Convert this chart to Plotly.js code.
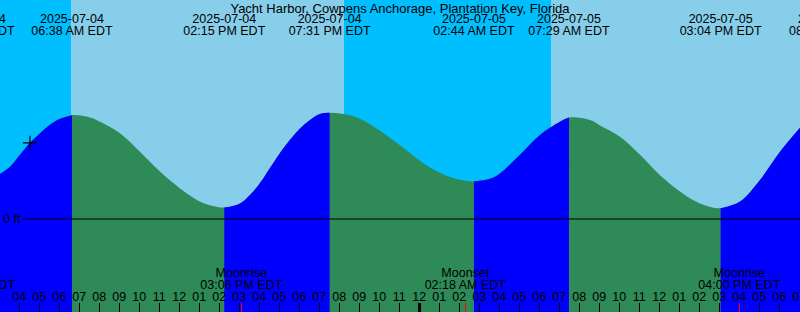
<!DOCTYPE html>
<html><head><meta charset="utf-8">
<script src="https://cdn.plot.ly/plotly-3.0.1.min.js"></script>
<style>html,body{margin:0;padding:0;background:#fff}#chart{width:800px;height:312px}</style>
</head><body><div id="chart"></div>
<script>
// ---------- data ----------
const chartTitle = 'Yacht Harbor, Cowpens Anchorage, Plantation Key, Florida';
const rangeStart = '2025-07-04 03:02:06';
const rangeEnd   = '2025-07-05 19:02:06';

// predicted tide curve (ft)
const curveTimes = [
 '2025-07-04 03:02','2025-07-04 03:32','2025-07-04 04:02','2025-07-04 04:32','2025-07-04 05:02','2025-07-04 05:32','2025-07-04 06:02','2025-07-04 06:38',
 '2025-07-04 07:32','2025-07-04 08:02','2025-07-04 09:02','2025-07-04 10:02','2025-07-04 11:02','2025-07-04 12:02','2025-07-04 13:02','2025-07-04 13:32','2025-07-04 14:15',
 '2025-07-04 15:02','2025-07-04 15:32','2025-07-04 16:02','2025-07-04 16:32','2025-07-04 17:02','2025-07-04 17:32','2025-07-04 18:02','2025-07-04 18:32','2025-07-04 19:02','2025-07-04 19:31',
 '2025-07-04 20:02','2025-07-04 20:32','2025-07-04 21:02','2025-07-04 21:32','2025-07-04 22:02','2025-07-04 22:32','2025-07-04 23:02','2025-07-04 23:32',
 '2025-07-05 00:02','2025-07-05 00:32','2025-07-05 01:02','2025-07-05 01:32','2025-07-05 02:02','2025-07-05 02:32','2025-07-05 02:44',
 '2025-07-05 03:32','2025-07-05 04:02','2025-07-05 05:02','2025-07-05 06:02','2025-07-05 07:02','2025-07-05 07:29',
 '2025-07-05 08:32','2025-07-05 09:02','2025-07-05 10:02','2025-07-05 11:02','2025-07-05 12:02','2025-07-05 13:02','2025-07-05 14:02','2025-07-05 15:04',
 '2025-07-05 16:02','2025-07-05 17:02','2025-07-05 18:02','2025-07-05 19:02'
];
const curveHeights = [
 0.75,0.87,1.07,1.27,1.43,1.57,1.67,1.73,
 1.69,1.62,1.43,1.12,0.79,0.51,0.29,0.23,0.19,
 0.26,0.40,0.60,0.85,1.10,1.32,1.51,1.65,1.75,1.77,
 1.76,1.73,1.67,1.58,1.47,1.35,1.23,1.10,
 0.97,0.86,0.77,0.70,0.655,0.63,0.625,
 0.67,0.76,1.07,1.40,1.62,1.69,
 1.65,1.56,1.37,1.07,0.73,0.46,0.26,0.18,
 0.29,0.65,1.12,1.52
];

// high / low tide events
const tideTimes = ['2025-07-04 01:44','2025-07-04 06:38','2025-07-04 14:15','2025-07-04 19:31',
                   '2025-07-05 02:44','2025-07-05 07:29','2025-07-05 15:04','2025-07-05 20:32'];

// sun
const sunriseTimes = ['2025-07-04 06:35','2025-07-05 06:35'];
const sunsetTimes  = ['2025-07-04 20:14','2025-07-05 20:14'];

// moon
const moonKinds = ['Moonset','Moonrise','Moonset','Moonrise'];
const moonTimes = ['2025-07-04 01:46','2025-07-04 15:06','2025-07-05 02:18','2025-07-05 16:00'];

const midnightTimes = ['2025-07-05 00:00'];

// current time marker
const nowTime = ['2025-07-04 04:32'];
const nowHeight = [1.27];

// datum label
const datumLevel = 0;
const datumLabel = '0 ft';

// ---------- styling constants ----------
const FONT = 'Liberation Sans, Arial, sans-serif';
const FS = 12.5;
const YMIN = -1.55, YMAX = 3.65;
const COL_DAY = '#87CEEB', COL_NIGHT = '#00BFFF', COL_RISE = '#0000FF', COL_FALL = '#2E8B57';
const ROW_DATE = 19.5, ROW_TIME = 31.5, ROW_MOON1 = 273.5, ROW_MOON2 = 285.5;

function fmtTime(s){
  const hm = s.split(' ')[1].split(':');
  let h = +hm[0]; const ap = h >= 12 ? 'PM' : 'AM';
  h = h % 12; if(h === 0) h = 12;
  return String(h).padStart(2,'0') + ':' + hm[1] + ' ' + ap + ' EDT';
}
function fmtDate(s){ return s.split(' ')[0]; }

// ---------- traces ----------
const traces = [];
const SPL = {width:0, shape:'spline', smoothing:1};
traces.push({x: curveTimes, y: curveTimes.map(()=>YMIN), mode:'lines', line:{width:0}, hoverinfo:'skip', showlegend:false});
traces.push({x: curveTimes, y: curveHeights, mode:'lines', line:SPL,
  fill:'tonexty', fillcolor: COL_FALL, hoverinfo:'skip', showlegend:false});

const cut = [0];
tideTimes.forEach(t => { const i = curveTimes.indexOf(t); if(i > 0 && i < curveTimes.length-1) cut.push(i); });
cut.push(curveTimes.length-1);
for(let k=0;k<cut.length-1;k++){
  const a = cut[k], b = cut[k+1];
  const xs = curveTimes.slice(a,b+1), ys = curveHeights.slice(a,b+1);
  if(ys[ys.length-1] > ys[0]){
    traces.push({x: xs, y: xs.map(()=>YMIN), mode:'lines', line:{width:0}, hoverinfo:'skip', showlegend:false});
    traces.push({x: xs, y: ys, mode:'lines', line:SPL,
      fill:'tonexty', fillcolor: COL_RISE, hoverinfo:'skip', showlegend:false});
  }
}
// now marker (on the hour-label axis, same range)
traces.push({x: nowTime, y: nowHeight, mode:'markers', xaxis:'x4', yaxis:'y', marker:{symbol:'cross-thin-open', size:10, line:{width:1.2, color:'#000'}, color:'#000'}, hoverinfo:'skip', showlegend:false});

const tf = {family: FONT, size: FS, color:'#000'};
traces.push({x: tideTimes, y: tideTimes.map(()=>ROW_DATE), text: tideTimes.map(fmtDate), mode:'text', textposition:'middle center', textfont: tf, xaxis:'x2', yaxis:'y2', hoverinfo:'skip', showlegend:false});
traces.push({x: tideTimes, y: tideTimes.map(()=>ROW_TIME), text: tideTimes.map(fmtTime), mode:'text', textposition:'middle center', textfont: tf, xaxis:'x2', yaxis:'y2', hoverinfo:'skip', showlegend:false});
traces.push({x: moonTimes, y: moonTimes.map(()=>ROW_MOON1), text: moonKinds, mode:'text', textposition:'middle center', textfont: tf, xaxis:'x3', yaxis:'y2', hoverinfo:'skip', showlegend:false});
traces.push({x: moonTimes, y: moonTimes.map(()=>ROW_MOON2), text: moonTimes.map(fmtTime), mode:'text', textposition:'middle center', textfont: tf, xaxis:'x3', yaxis:'y2', hoverinfo:'skip', showlegend:false});

// ---------- layout ----------
const shapes = sunriseTimes.map((s,i)=>({type:'rect', xref:'x', yref:'paper', x0:s, x1:sunsetTimes[i], y0:0, y1:1, fillcolor:COL_DAY, line:{width:0}, layer:'below'}));
shapes.push({type:'line', xref:'paper', yref:'y', x0:0.0275, x1:1, y0:datumLevel, y1:datumLevel, line:{color:'#000', width:1}, layer:'above'});

const annotations = [{xref:'paper', x:0, xanchor:'left', xshift:1, yref:'y', y:datumLevel, yanchor:'middle', text:datumLabel, showarrow:false, font:tf}];

const baseX = {type:'date', range:[rangeStart, rangeEnd], showgrid:false, zeroline:false, showline:false, fixedrange:true};
const layout = {
  width:800, height:312, margin:{l:0,r:0,t:0,b:0,pad:0},
  paper_bgcolor:'#fff', plot_bgcolor: COL_NIGHT, showlegend:false,
  font:{family:FONT, size:FS, color:'#000'},
  title:{text: chartTitle, x:0.5, xanchor:'center', xref:'paper', y:1-8/312, yanchor:'middle', yref:'container', font:{family:FONT, size:13, color:'#000'}},
  xaxis: Object.assign({}, baseX, {ticks:'inside', ticklen:9, tickwidth:1, tickcolor:'#000', tick0:'2025-07-04 00:00', dtick:3600000, showticklabels:false}),
  xaxis2: Object.assign({}, baseX, {overlaying:'x', anchor:'y', tickmode:'array', tickvals: midnightTimes, ticks:'inside', ticklen:9, tickwidth:3, tickcolor:'#000', showticklabels:false}),
  xaxis3: Object.assign({}, baseX, {overlaying:'x', anchor:'y', tickmode:'array', tickvals: moonTimes, ticks:'inside', ticklen:9, tickwidth:1, tickcolor:'#FF0000', showticklabels:false}),
  xaxis4: Object.assign({}, baseX, {overlaying:'x', anchor:'free', position:(312-303)/312, side:'top', ticks:'', tick0:'2025-07-04 00:00', dtick:3600000, tickformat:'%I', showticklabels:true, ticklabeloverflow:'allow', tickfont:tf}),
  yaxis: {range:[YMIN, YMAX], showticklabels:false, ticks:'', showgrid:false, zeroline:false, showline:false, fixedrange:true},
  yaxis2: {range:[312, 0], overlaying:'y', visible:false, fixedrange:true},
  shapes: shapes,
  annotations: annotations
};
Plotly.newPlot('chart', traces, layout, {staticPlot:true, displayModeBar:false});
</script></body></html>
